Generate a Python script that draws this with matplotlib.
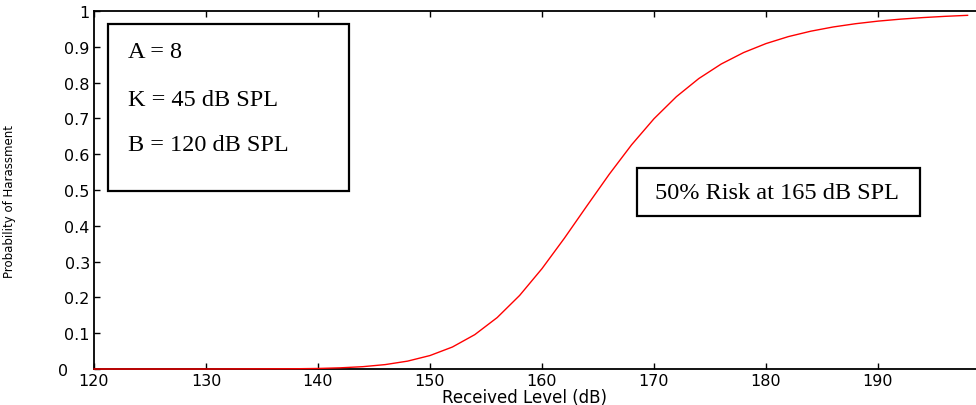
import matplotlib
matplotlib.use("Agg")
import matplotlib.pyplot as plt
import matplotlib.transforms as mtrans
from matplotlib.patches import Rectangle

# values
level = [120, 130, 138, 140, 142, 144, 146, 148, 150, 152, 154, 156, 158, 160,
         162, 164, 166, 168, 170, 172, 174, 176, 178, 180, 182, 184, 186,
         188, 190, 192, 194, 196, 198]
prob = [0.0, 0.0, 0.0007, 0.0015, 0.0033, 0.0065, 0.0123, 0.022, 0.0376,
        0.0614, 0.096, 0.1437, 0.2054, 0.2804, 0.3654, 0.4552, 0.5438,
        0.6263, 0.6991, 0.7607, 0.8113, 0.8519, 0.8839, 0.909, 0.9285,
        0.9436, 0.9554, 0.9645, 0.9717, 0.9772, 0.9816, 0.9851, 0.9879]

xticks = [120, 130, 140, 150, 160, 170, 180, 190]
yticks = [0, 0.1, 0.2, 0.3, 0.4, 0.5, 0.6, 0.7, 0.8, 0.9, 1]
ytick_labels = ['0', '0.1', '0.2', '0.3', '0.4', '0.5', '0.6', '0.7', '0.8', '0.9', '1']

params = ['A = 8', 'K = 45 dB SPL', 'B = 120 dB SPL']
risk_note = '50% Risk at 165 dB SPL'

plt.rcParams['font.family'] = ['DejaVu Sans']

fig = plt.figure(figsize=(9.76, 4.06), dpi=100)
ax = fig.add_axes([94/976, 1 - 370/406, 882/976, 358/406])

ax.plot(level, prob, color='red', lw=1.0, clip_on=False, zorder=5)

ax.set_xlim(120, 198.75)
ax.set_ylim(0, 1)
ax.set_xticks(xticks)
ax.set_xticklabels([str(x) for x in xticks])
ax.set_yticks(yticks)
ax.set_yticklabels(ytick_labels)
ax.tick_params(direction='in', length=4, width=1, top=True, labelsize=11.5, pad=3)
ax.spines['right'].set_visible(False)
for s in ['left', 'bottom', 'top']:
    ax.spines[s].set_linewidth(1.3)

# the "0" label sits further left, clear of "120"
zero_lbl = ax.get_yticklabels()[0]
zero_lbl.set_transform(zero_lbl.get_transform() +
                       mtrans.ScaledTranslation(-22/100, 0, fig.dpi_scale_trans))

ax.set_xlabel('Received Level (dB)', fontsize=12)
ax.xaxis.set_label_coords(0.488, -0.053)
ax.set_ylabel('Probability of Harassment', fontsize=8.5)
ax.yaxis.set_label_coords(-0.088, 0.47)

# parameter box
ax.add_patch(Rectangle((0.0159, 0.4972), 0.2732, 0.4665, transform=ax.transAxes,
                       fill=False, edgecolor='black', lw=1.6, zorder=6))
for txt, yy in zip(params, [0.888, 0.754, 0.626]):
    ax.text(0.0385, yy, txt, transform=ax.transAxes, family='Liberation Serif',
            fontsize=17.5, va='center', ha='left', zorder=7)

# risk box
ax.add_patch(Rectangle((0.6156, 0.4274), 0.3209, 0.1341, transform=ax.transAxes,
                       fill=True, facecolor='white', edgecolor='black', lw=1.6, zorder=6))
ax.text(0.7744, 0.4944, risk_note, transform=ax.transAxes, family='Liberation Serif',
        fontsize=17.5, va='center', ha='center', zorder=7)

fig.savefig('out.png', dpi=100)
